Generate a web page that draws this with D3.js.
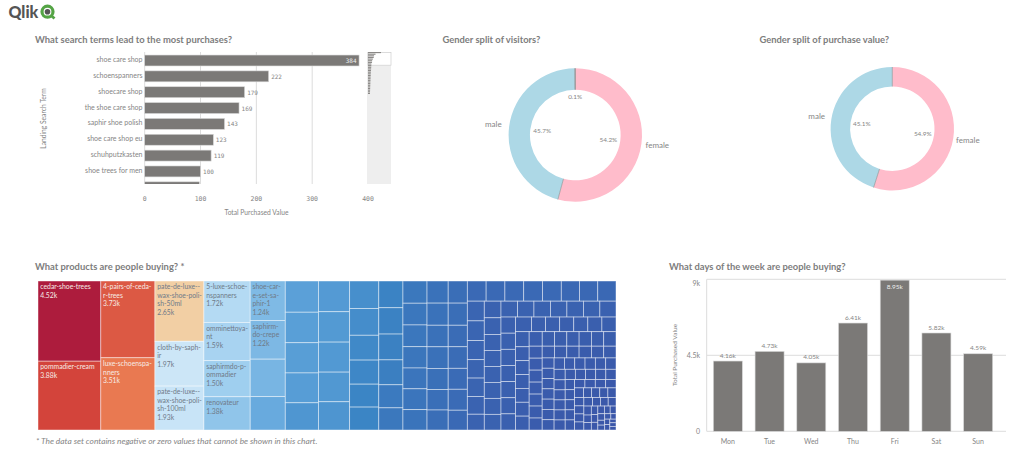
<!DOCTYPE html>
<html lang="en">
<head>
  <meta charset="UTF-8">
  <title>Qlik dashboard</title>
  <style>
    html, body { margin: 0; padding: 0; background: #fff; }
    svg { display: block; }
    text { font-family: Lato, sans-serif; fill: #858585; font-size: 7px; }
    .title { font-size: 9.4px; font-weight: 700; fill: #7d7d7d; }
    .grid { stroke: #dcdcdc; stroke-width: 1; }
    .bar { fill: #7b7977; stroke: #d8d8d8; stroke-width: .6; }
    .cell text { font-size: 6.8px; }
  </style>
</head>
<body>
  <svg width="1024" height="452"></svg>

  <script src="https://d3js.org/d3.v7.min.js"></script>
  <script>
    // search terms
    const searchTerms = ["shoe care shop", "schoenspanners", "shoecare shop", "the shoe care shop",
      "saphir shoe polish", "shoe care shop eu", "schuhputzkasten", "shoe trees for men", "shoe stretcher"];
    const searchValues = [384, 222, 179, 169, 143, 123, 119, 100, 98];
    // long tail for the mini chart next to the bars
    const miniValues = [384, 222, 179, 169, 143, 123, 119, 100, 98, 95, 92, 88, 85, 82, 80, 78, 76, 74, 72, 70, 68, 66, 64, 62, 60, 58];
    const searchTicks = [0, 100, 200, 300, 400];

    // gender
    const genderVisitors = [54.2, 45.7, 0.1];
    const genderPurchases = [54.9, 45.1];
    const genderNames = ["female", "male", ""];
    const genderColors = ["#ffbccb", "#add8e6", "#8a8a8a"];

    // days of the week
    const days = ["Mon", "Tue", "Wed", "Thu", "Fri", "Sat", "Sun"];
    const dayValues = [4160, 4730, 4050, 6410, 8950, 5820, 4590];
    const dayLabels = ["4.16k", "4.73k", "4.05k", "6.41k", "8.95k", "5.82k", "4.59k"];
    const dayTicks = [0, 4500, 9000];
    const dayTickLabels = ["0", "4.5k", "9k"];

    // products, in thousands. only the big ones have readable names
    const productLines = [["cedar-shoe-trees"], ["pommadier-cream"], ["4-pairs-of-ceda-", "r-trees"], ["luxe-schoenspa-", "nners"],
      ["pate-de-luxe--", "wax-shoe-poli-", "sh-50ml"], ["cloth-by-saph-", "ir"], ["pate-de-luxe--", "wax-shoe-poli-", "sh-100ml"],
      ["5-luxe-schoe-", "nspanners"], ["omminettoya-", "nt"], ["saphirmdo-p-", "ommadier"], ["renovateur"],
      ["shoe-car-", "e-set-sa-", "phir-1"], ["saphirm-", "do-crepe"]];
    const productLabels = ["4.52k", "3.88k", "3.73k", "3.51k", "2.65k", "1.97k", "1.93k", "1.72k", "1.59k", "1.50k", "1.38k", "1.24k", "1.22k"];
    const productValues = [4.52, 3.88, 3.73, 3.51, 2.65, 1.97, 1.93, 1.72, 1.59, 1.50, 1.38, 1.24, 1.22,
      1.18, 1.05,
      .93, .91, .90, .89, .81,
      .86, .85, .84, .83, .79,
      .72, .70, .65, .63, .60, .60,
      .58, .57, .56, .54, .50, .48,
      .48, .47, .47, .46, .45, .45, .44,
      .42, .42, .41, .41, .40, .39, .38,
      .38, .38, .37, .37, .36, .36, .34,
      .34, .34, .34, .34, .34, .33, .33, .33,
      .30, .30, .29, .28, .28, .27, .24,
      .25, .25, .24, .24, .24, .24, .24, .235,
      .235, .235, .235, .235, .235, .235, .23,
      .21, .21, .21, .21, .21, .21, .21, .21,
      .185, .185, .185, .185, .185, .185, .185,
      .17, .17, .17, .17, .17, .17, .17,
      .16, .16, .16, .16, .16, .16,
      .14, .14, .14, .14, .14, .14, .14,
      .13, .13, .13, .13, .13, .13,
      .11, .11, .11, .11, .11, .11, .11,
      .105, .105, .105, .105, .105, .105, .105,
      .10, .10, .10, .10, .10,
      .094, .094, .094, .094, .094,
      .085, .085, .085, .085, .085,
      .077, .077, .077, .077, .077,
      .07, .07, .07, .07, .07,
      .067, .067, .067, .067,
      .06, .06, .06, .06,
      .05, .05, .05, .045, .045, .045,
      .04, .04, .04, .03, .03, .03, .025, .025, .025, .02, .02, .02];
    const heatStops = [0, .3, .6, 1, 1.5, 2, 2.65, 3.5, 3.88, 4.52];
    const heatColors = ["#3a55a8", "#3a65b2", "#3b85c5", "#62a6dc", "#9fcfef", "#cfe7f8", "#f2cfa4", "#ea7a52", "#d3443b", "#ad1c3d"];

    const svg = d3.select("svg");

    // logo
    const logo = svg.append("g");
    logo.append("text").attr("x", 8.5).attr("y", 17.5)
      .style("font-size", "16px").style("font-weight", 900).style("fill", "#555").text("Qlik");
    logo.append("line").attr("x1", 50.5).attr("y1", 15).attr("x2", 54.5).attr("y2", 18.5)
      .attr("stroke", "#54a445").attr("stroke-width", 2.8);
    logo.append("circle").attr("cx", 47.5).attr("cy", 11.7).attr("r", 5.5)
      .attr("fill", "none").attr("stroke", "#54a445").attr("stroke-width", 3.2);
    logo.append("circle").attr("cx", 47.5).attr("cy", 11.7).attr("r", 2.8).attr("fill", "#555");

    // titles
    const title = (x, y, t) => svg.append("text").attr("class", "title").attr("x", x).attr("y", y).text(t);
    title(35, 43, "What search terms lead to the most purchases?");
    title(442.5, 43, "Gender split of visitors?");
    title(759.5, 43, "Gender split of purchase value?");
    title(35, 270, "What products are people buying? *");
    title(669, 270, "What days of the week are people buying?");

    // Draw search term bars
    const xTerm = d3.scaleLinear().domain([0, 400]).range([144.7, 368]);
    const yTerm = d3.scaleBand().domain(searchTerms).range([52.5, 195.3]).paddingInner(.31).paddingOuter(.16);

    svg.append("defs").append("clipPath").attr("id", "termClip")
      .append("rect").attr("x", 140).attr("y", 52).attr("width", 240).attr("height", 132);

    svg.selectAll(".termGrid").data(searchTicks).join("line")
      .attr("class", "grid termGrid")
      .attr("x1", d => xTerm(d)).attr("x2", d => xTerm(d))
      .attr("y1", 52).attr("y2", 184);

    const terms = svg.append("g").attr("clip-path", "url(#termClip)");
    terms.selectAll("rect").data(searchValues).join("rect")
      .attr("class", "bar")
      .attr("x", xTerm(0))
      .attr("y", (d, i) => yTerm(searchTerms[i]))
      .attr("width", d => xTerm(d) - xTerm(0))
      .attr("height", yTerm.bandwidth());

    svg.selectAll(".termName").data(searchTerms.slice(0, 8)).join("text")
      .attr("class", "termName")
      .attr("x", 142.5)
      .attr("y", d => yTerm(d) + yTerm.bandwidth() / 2 + 1.5)
      .attr("text-anchor", "end")
      .text(d => d);

    svg.selectAll(".termValue").data(searchValues.slice(0, 8)).join("text")
      .attr("class", "termValue")
      .attr("x", (d, i) => i === 0 ? xTerm(d) - 2.5 : xTerm(d) + 2.5)
      .attr("y", (d, i) => yTerm(searchTerms[i]) + yTerm.bandwidth() / 2 + 2.5)
      .attr("text-anchor", (d, i) => i === 0 ? "end" : "start")
      .style("fill", (d, i) => i === 0 ? "#eee" : "#858585")
      .style("font-family", "'DejaVu Sans Mono', monospace")
      .style("font-size", "6px")
      .text(d => d);

    svg.selectAll(".termTick").data(searchTicks).join("text")
      .attr("class", "termTick")
      .attr("x", d => xTerm(d)).attr("y", 200.5)
      .attr("text-anchor", "middle")
      .style("font-family", "'DejaVu Sans Mono', monospace")
      .style("font-size", "6.5px")
      .text(d => d);

    svg.append("text").attr("x", 256.5).attr("y", 215).attr("text-anchor", "middle").style("font-size", "6.7px").text("Total Purchased Value");
    svg.append("text").attr("transform", "translate(45.5,118.5) rotate(-90)").attr("text-anchor", "middle").style("font-size", "6.7px").text("Landing Search Term");

    // Mini chart
    svg.append("rect").attr("x", 368).attr("y", 52).attr("width", 23).attr("height", 132).attr("fill", "#eeeeee");
    svg.append("rect").attr("x", 368).attr("y", 52.4).attr("width", 23).attr("height", 12.8)
      .attr("fill", "#fff").attr("stroke", "#cfcfcf").attr("stroke-width", .7);
    const xMini = d3.scaleLinear().domain([0, 384]).range([368, 381]);
    const yMini = d3.scaleBand().domain(d3.range(miniValues.length)).range([52, 94]).paddingInner(.3);
    svg.selectAll(".mini").data(miniValues).join("rect")
      .attr("class", "mini")
      .attr("x", 368)
      .attr("y", (d, i) => yMini(i))
      .attr("width", d => xMini(d) - 368)
      .attr("height", yMini.bandwidth())
      .attr("fill", "#8a8886");

    // Draw donuts
    function donut(values, cx, cy, r, innerRatio) {
      const pie = d3.pie().sort(null)(values);
      const g = svg.append("g").attr("transform", `translate(${cx},${cy})`);
      const arc = d3.arc().innerRadius(r * innerRatio).outerRadius(r);
      g.selectAll("path").data(pie).join("path")
        .attr("d", arc)
        .attr("fill", d => genderColors[d.index]);
      g.selectAll("line").data(pie).join("line")
        .attr("x1", d => d3.pointRadial(d.endAngle, r * innerRatio)[0])
        .attr("y1", d => d3.pointRadial(d.endAngle, r * innerRatio)[1])
        .attr("x2", d => d3.pointRadial(d.endAngle, r)[0])
        .attr("y2", d => d3.pointRadial(d.endAngle, r)[1])
        .attr("stroke", "#8a8a8a").attr("stroke-width", .6);

      const mid = d => (d.startAngle + d.endAngle) / 2;
      g.selectAll(".pct").data(pie).join("text")
        .attr("class", "pct")
        .attr("x", d => d3.pointRadial(mid(d), r * (d.value < 1 ? .58 : .5))[0])
        .attr("y", d => d3.pointRadial(mid(d), r * (d.value < 1 ? .58 : .5))[1] + 2.3)
        .attr("text-anchor", "middle")
        .style("font-size", "6.4px")
        .text(d => d.value + "%");
      g.selectAll(".name").data(pie.filter(d => d.value >= 1)).join("text")
        .attr("class", "name")
        .attr("x", d => d3.pointRadial(mid(d), r * 1.24)[0])
        .attr("y", d => d3.pointRadial(mid(d), r * 1.24)[1] + 2.5)
        .attr("text-anchor", "middle")
        .style("font-size", "8px")
        .text(d => genderNames[d.index]);
    }
    donut(genderVisitors, 575.3, 135, 66.7, .68);
    donut(genderPurchases, 892.3, 128.7, 61.7, .684);

    // Draw treemap
    const root = d3.hierarchy({ children: productValues.map((v, i) => ({ v, i })) })
      .sum(d => d.v || 0);
    d3.treemap().size([578, 149]).paddingInner(0).tile(d3.treemapSquarify.ratio(1))(root);
    const heat = d3.scaleLinear().domain(heatStops).range(heatColors);

    const cell = svg.append("g").attr("transform", "translate(38,281)")
      .selectAll("g").data(root.leaves()).join("g")
      .attr("class", "cell")
      .attr("transform", d => `translate(${d.x0},${d.y0})`);
    cell.append("rect")
      .attr("width", d => d.x1 - d.x0)
      .attr("height", d => d.y1 - d.y0)
      .attr("fill", d => heat(d.data.v))
      .attr("stroke", "#fff").attr("stroke-opacity", .55).attr("stroke-width", .8);

    const labelled = cell.filter(d => d.data.i < productLines.length);
    labelled.each(function (d) {
      const t = d3.select(this);
      const ink = d.data.i < 4 ? "#f6ece6" : "#6f7a88";
      const lines = productLines[d.data.i].concat(productLabels[d.data.i]);
      t.selectAll("text").data(lines).join("text")
        .attr("x", 2.3)
        .attr("y", (l, j) => 8.3 + j * 8.5)
        .style("fill", ink)
        .text(l => l);
    });

    // Draw days of the week
    const xDay = d3.scaleBand().domain(days).range([707, 999]).paddingInner(.305).paddingOuter(.1525);
    const yDay = d3.scaleLinear().domain([0, 9000]).range([431.3, 279.3]);

    svg.selectAll(".dayGrid").data(dayTicks).join("line")
      .attr("class", "grid dayGrid")
      .attr("x1", 706.7).attr("x2", 1006)
      .attr("y1", d => yDay(d)).attr("y2", d => yDay(d));
    svg.append("line").attr("class", "grid")
      .attr("x1", 706.7).attr("x2", 706.7).attr("y1", 279.3).attr("y2", 431.3);

    svg.selectAll(".dayBar").data(dayValues).join("rect")
      .attr("class", "bar dayBar")
      .attr("x", (d, i) => xDay(days[i]))
      .attr("y", d => yDay(d))
      .attr("width", xDay.bandwidth())
      .attr("height", d => yDay(0) - yDay(d));

    svg.selectAll(".dayValue").data(dayValues).join("text")
      .attr("class", "dayValue")
      .attr("x", (d, i) => xDay(days[i]) + xDay.bandwidth() / 2)
      .attr("y", d => d > 8000 ? yDay(d) + 9 : yDay(d) - 3.5)
      .attr("text-anchor", "middle")
      .style("font-size", "6.5px")
      .style("fill", d => d > 8000 ? "#eee" : "#858585")
      .text((d, i) => dayLabels[i]);

    svg.selectAll(".dayName").data(days).join("text")
      .attr("class", "dayName")
      .attr("x", d => xDay(d) + xDay.bandwidth() / 2)
      .attr("y", 444)
      .attr("text-anchor", "middle")
      .text(d => d);

    svg.selectAll(".dayTick").data(dayTicks).join("text")
      .attr("class", "dayTick")
      .attr("x", 700)
      .attr("y", d => d === 9000 ? yDay(d) + 6.5 : yDay(d) + 2.5)
      .attr("text-anchor", "end")
      .text((d, i) => dayTickLabels[i]);

    svg.append("text").attr("transform", "translate(677,355) rotate(-90)").attr("text-anchor", "middle")
      .style("font-size", "6.5px").text("Total Purchased Value");

    svg.append("text").attr("x", 36).attr("y", 443.5)
      .style("font-style", "italic").style("font-size", "8.35px")
      .text("* The data set contains negative or zero values that cannot be shown in this chart.");
  </script>
</body>
</html>
